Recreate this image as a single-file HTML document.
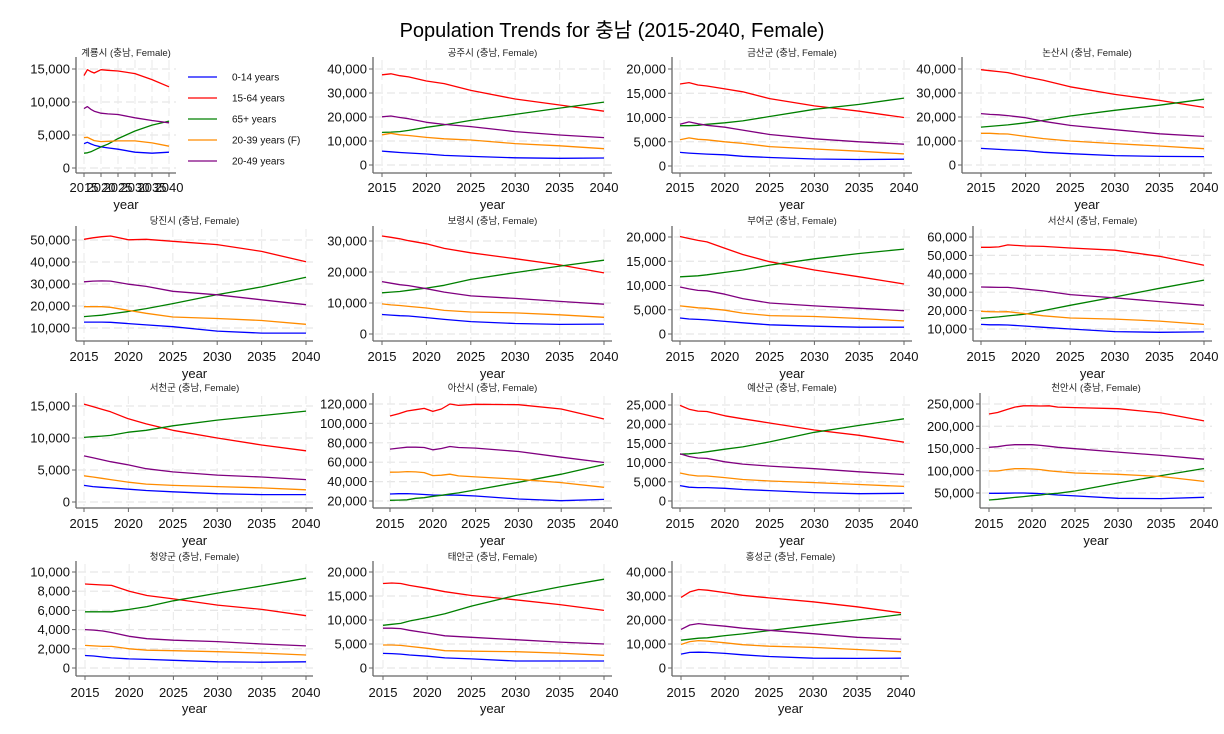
<!DOCTYPE html>
<html><head><meta charset="utf-8">
<style>
html,body{margin:0;padding:0;background:#fff;}
svg{display:block;font-family:"Liberation Sans","Noto Sans CJK KR",sans-serif;}
</style></head>
<body>
<svg id="chart" width="1224" height="734" viewBox="0 0 1224 734" xmlns="http://www.w3.org/2000/svg">
<rect x="0" y="0" width="1224" height="734" fill="#fff"/>
<text x="612" y="37" text-anchor="middle" font-size="20" fill="#000">Population Trends for 충남 (2015-2040, Female)</text>
<g id="legend"></g>
</svg>
<script>
const NS="http://www.w3.org/2000/svg";
const svg=document.getElementById('chart');
const YEARS_A=[2015,2016,2017,2018,2020,2022,2025,2030,2035,2040];
const YEARS_B=[2015,2016,2017,2018,2019,2020,2021,2022,2023,2025,2030,2035,2040];
const X_TICKS=[2015,2020,2025,2030,2035,2040];
const SERIES_NAMES=["0-14 years","15-64 years","65+ years","20-39 years (F)","20-49 years"];
const SERIES_KEYS=["age0_14","age15_64","age65","age20_39","age20_49"];
const COLORS=["#0000ff","#ff0000","#008000","#ff8c00","#800080"];
const REGIONS=["계룡시","공주시","금산군","논산시","당진시","보령시","부여군","서산시","서천군","아산시","예산군","천안시","청양군","태안군","홍성군"];

// values per region: [0-14, 15-64, 65+, 20-39, 20-49]
const gyeryong_age0_14=[3700,3900,3650,3450,3200,3050,2850,2400,2250,2400];
const gyeryong_age15_64=[14000,14900,14600,14400,14900,14800,14700,14300,13400,12300];
const gyeryong_age65=[2250,2300,2450,2700,3200,3600,4450,5600,6500,7100];
const gyeryong_age20_39=[4600,4650,4400,4150,4000,4050,4100,4100,3800,3300];
const gyeryong_age20_49=[9000,9300,8900,8600,8300,8200,8100,7600,7200,6850];

const gongju_age0_14=[5800,5500,5200,5000,4600,4000,3600,3000,2800,2900];
const gongju_age15_64=[37600,38000,37200,36700,35000,33900,31100,27500,25000,22400];
const gongju_age65=[13600,13700,13900,14400,15700,16700,18600,21100,23700,26200];
const gongju_age20_39=[12600,13200,12600,12300,11500,10900,10400,8900,8000,6800];
const gongju_age20_49=[20100,20400,19800,19300,17800,16900,16000,13900,12500,11400];

const geumsan_age0_14=[2800,2650,2550,2450,2300,2000,1750,1450,1350,1400];
const geumsan_age15_64=[16900,17200,16700,16500,15900,15300,13900,12400,11300,10000];
const geumsan_age65=[8300,8300,8400,8600,8900,9300,10200,11700,12700,14000];
const geumsan_age20_39=[5400,5800,5500,5400,5000,4650,4000,3500,3050,2500];
const geumsan_age20_49=[8600,9100,8700,8400,8000,7400,6500,5600,5000,4500];

const nonsan_age0_14=[6900,6700,6500,6300,6000,5300,4700,3900,3600,3500];
const nonsan_age15_64=[39700,39300,38900,38500,36800,35300,32600,29400,26900,24000];
const nonsan_age65=[15800,16100,16400,16700,17600,18600,20400,22800,24900,27400];
const nonsan_age20_39=[13200,13200,13000,12900,11900,11000,10000,8900,7900,6800];
const nonsan_age20_49=[21400,21100,20900,20600,19700,18200,16500,14700,13000,11900];

const dangjin_age0_14=[12700,12700,12700,12600,12000,11400,10600,8600,7700,7700];
const dangjin_age15_64=[50300,51000,51500,51800,50100,50300,49400,47900,44800,40100];
const dangjin_age65=[15200,15500,15800,16400,17500,18800,21100,25200,28700,33100];
const dangjin_age20_39=[19700,19700,19700,19400,18000,16700,15000,14300,13400,11700];
const dangjin_age20_49=[31000,31300,31400,31300,29900,28900,26700,25100,22800,20600];

const boryeong_age0_14=[6300,6100,5900,5800,5300,4700,4000,3400,3100,3200];
const boryeong_age15_64=[31600,31200,30700,30100,29100,27600,26200,24300,22300,19700];
const boryeong_age65=[13300,13500,13700,14100,14800,15700,17600,19800,21900,23800];
const boryeong_age20_39=[9700,9400,9200,8900,8400,7600,7100,6800,6200,5400];
const boryeong_age20_49=[16900,16400,15900,15600,14600,13500,12300,11500,10500,9600];

const buyeo_age0_14=[3300,3100,3000,2900,2600,2300,1900,1600,1400,1400];
const buyeo_age15_64=[20100,19700,19300,19000,17700,16400,14900,13200,11800,10300];
const buyeo_age65=[11800,11900,12000,12200,12700,13200,14200,15500,16600,17500];
const buyeo_age20_39=[5800,5600,5400,5300,4900,4300,3800,3600,3200,2700];
const buyeo_age20_49=[9700,9300,9000,8900,8200,7300,6400,5800,5300,4800];

const seosan_age0_14=[12500,12300,12300,12200,11600,10900,10000,8600,8200,8400];
const seosan_age15_64=[54400,54400,54600,55700,55100,54900,54000,52800,49500,44600];
const seosan_age65=[15800,16200,16600,17100,18100,20000,22900,27400,32100,36600];
const seosan_age20_39=[19600,19400,19300,19400,18300,17200,16000,15400,14300,12500];
const seosan_age20_49=[32800,32700,32600,32600,31700,30700,28700,26900,24900,22900];

const seocheon_age0_14=[2600,2400,2300,2200,2000,1800,1600,1300,1150,1150];
const seocheon_age15_64=[15300,14900,14500,14100,13000,12200,11200,10000,8900,8000];
const seocheon_age65=[10100,10200,10300,10400,10900,11200,11900,12800,13500,14200];
const seocheon_age20_39=[4100,3900,3700,3500,3100,2800,2600,2400,2200,1900];
const seocheon_age20_49=[7200,6900,6600,6300,5800,5200,4700,4200,3900,3500];

const asan_age0_14=[27200,27500,27600,27200,26700,26200,26000,26200,26000,25200,22100,20300,21700];
const asan_age15_64=[107600,110000,112800,114100,115500,112400,114800,120000,118600,119700,119300,114800,104500];
const asan_age65=[20700,20900,21200,22800,23400,24800,25900,27200,28300,31400,39300,47600,57600];
const asan_age20_39=[49700,49800,50300,50000,49300,46200,46600,47600,45900,44800,42400,39000,34100];
const asan_age20_49=[73500,74500,75500,75500,75200,72800,74100,76200,75200,74500,71000,65200,59700];

const yesan_age0_14=[4000,3600,3500,3500,3300,3000,2700,2200,1900,2000];
const yesan_age15_64=[24900,23900,23400,23300,22200,21400,20300,18500,17100,15300];
const yesan_age65=[12200,12300,12500,12800,13500,14100,15400,17900,19700,21400];
const yesan_age20_39=[7300,6800,6500,6500,6100,5600,5200,4800,4300,3800];
const yesan_age20_49=[12300,11600,11200,11100,10200,9600,9100,8400,7600,6900];

const cheonan_age0_14=[49300,49300,49500,50000,50000,49300,48600,47100,45600,43400,38200,37500,40400];
const cheonan_age15_64=[227500,231000,237000,243000,246000,246000,245500,246000,243000,242000,239500,230000,212000];
const cheonan_age65=[34300,35800,38000,40000,41800,44000,45500,48000,49300,54500,72500,89000,105000];
const cheonan_age20_39=[99500,99500,102500,104500,104500,104000,102500,100000,98000,95000,92000,87000,76000];
const cheonan_age20_49=[152600,154000,157000,158500,158500,158500,157000,155000,152600,149500,142000,134600,126000];

const cheongyang_age0_14=[1300,1250,1150,1050,950,900,800,650,600,650];
const cheongyang_age15_64=[8750,8700,8650,8600,8000,7550,7200,6550,6100,5450];
const cheongyang_age65=[5850,5850,5850,5850,6100,6400,7000,7800,8550,9350];
const cheongyang_age20_39=[2350,2300,2250,2250,2000,1850,1800,1700,1550,1350];
const cheongyang_age20_49=[4000,3950,3850,3700,3300,3050,2900,2750,2500,2300];

const taean_age0_14=[3050,3000,2900,2700,2450,2100,1900,1450,1450,1450];
const taean_age15_64=[17600,17700,17600,17200,16600,15900,15100,14200,13200,12000];
const taean_age65=[8900,9100,9300,9800,10500,11300,12900,15100,16900,18500];
const taean_age20_39=[4800,4800,4700,4500,4100,3600,3500,3400,3100,2650];
const taean_age20_49=[8300,8300,8200,7850,7300,6700,6400,5900,5400,5000];

const hongseong_age0_14=[5800,6500,6600,6500,6100,5500,4800,4100,4000,4100];
const hongseong_age15_64=[29400,31700,32700,32400,31400,30300,29200,27600,25500,23000];
const hongseong_age65=[11600,12000,12400,12600,13500,14200,15600,17800,20000,22300];
const hongseong_age20_39=[9800,11000,11400,11200,10500,9700,9100,8600,7700,6800];
const hongseong_age20_49=[16100,17900,18500,18100,17400,16600,15700,14300,12800,12000];

const Y_TICKS_15K=[0,5000,10000,15000];
const Y_TICKS_40K=[0,10000,20000,30000,40000];
const Y_TICKS_20K=[0,5000,10000,15000,20000];
const Y_TICKS_DANGJIN=[10000,20000,30000,40000,50000];
const Y_TICKS_30K=[0,10000,20000,30000];
const Y_TICKS_SEOSAN=[10000,20000,30000,40000,50000,60000];
const Y_TICKS_ASAN=[20000,40000,60000,80000,100000,120000];
const Y_TICKS_25K=[0,5000,10000,15000,20000,25000];
const Y_TICKS_CHEONAN=[50000,100000,150000,200000,250000];
const Y_TICKS_10K=[0,2000,4000,6000,8000,10000];

const DATA={
 gyeryong:[gyeryong_age0_14,gyeryong_age15_64,gyeryong_age65,gyeryong_age20_39,gyeryong_age20_49],
 gongju:[gongju_age0_14,gongju_age15_64,gongju_age65,gongju_age20_39,gongju_age20_49],
 geumsan:[geumsan_age0_14,geumsan_age15_64,geumsan_age65,geumsan_age20_39,geumsan_age20_49],
 nonsan:[nonsan_age0_14,nonsan_age15_64,nonsan_age65,nonsan_age20_39,nonsan_age20_49],
 dangjin:[dangjin_age0_14,dangjin_age15_64,dangjin_age65,dangjin_age20_39,dangjin_age20_49],
 boryeong:[boryeong_age0_14,boryeong_age15_64,boryeong_age65,boryeong_age20_39,boryeong_age20_49],
 buyeo:[buyeo_age0_14,buyeo_age15_64,buyeo_age65,buyeo_age20_39,buyeo_age20_49],
 seosan:[seosan_age0_14,seosan_age15_64,seosan_age65,seosan_age20_39,seosan_age20_49],
 seocheon:[seocheon_age0_14,seocheon_age15_64,seocheon_age65,seocheon_age20_39,seocheon_age20_49],
 asan:[asan_age0_14,asan_age15_64,asan_age65,asan_age20_39,asan_age20_49],
 yesan:[yesan_age0_14,yesan_age15_64,yesan_age65,yesan_age20_39,yesan_age20_49],
 cheonan:[cheonan_age0_14,cheonan_age15_64,cheonan_age65,cheonan_age20_39,cheonan_age20_49],
 cheongyang:[cheongyang_age0_14,cheongyang_age15_64,cheongyang_age65,cheongyang_age20_39,cheongyang_age20_49],
 taean:[taean_age0_14,taean_age15_64,taean_age65,taean_age20_39,taean_age20_49],
 hongseong:[hongseong_age0_14,hongseong_age15_64,hongseong_age65,hongseong_age20_39,hongseong_age20_49]
};

// layout (pixels)
const ROWS=[
 {top:60,axisY:173,title:56,xlab:192,xtitle:209},
 {top:229,axisY:341,title:224,xlab:361,xtitle:378},
 {top:396,axisY:508,title:391,xlab:528,xtitle:545},
 {top:564,axisY:676,title:560,xlab:697,xtitle:713}
];
const PANELS=[
 {key:'gyeryong',row:0,axisX:76,x0:84,x1:169,right:176,yt:Y_TICKS_15K,pTop:69,pBot:168,years:YEARS_A},
 {key:'gongju',row:0,axisX:373,x0:382,x1:604,right:612,yt:Y_TICKS_40K,pTop:69,pBot:165,years:YEARS_A},
 {key:'geumsan',row:0,axisX:672,x0:680,x1:904,right:912,yt:Y_TICKS_20K,pTop:69,pBot:166,years:YEARS_A},
 {key:'nonsan',row:0,axisX:962,x0:981,x1:1204,right:1212,yt:Y_TICKS_40K,pTop:69,pBot:165,years:YEARS_A},
 {key:'dangjin',row:1,axisX:76,x0:84,x1:306,right:313,yt:Y_TICKS_DANGJIN,pTop:240,pBot:328,years:YEARS_A},
 {key:'boryeong',row:1,axisX:373,x0:382,x1:604,right:612,yt:Y_TICKS_30K,pTop:241,pBot:334,years:YEARS_A},
 {key:'buyeo',row:1,axisX:672,x0:680,x1:904,right:912,yt:Y_TICKS_20K,pTop:237,pBot:334,years:YEARS_A},
 {key:'seosan',row:1,axisX:973,x0:981,x1:1204,right:1212,yt:Y_TICKS_SEOSAN,pTop:237,pBot:329,years:YEARS_A},
 {key:'seocheon',row:2,axisX:76,x0:84,x1:306,right:313,yt:Y_TICKS_15K,pTop:406,pBot:502,years:YEARS_A},
 {key:'asan',row:2,axisX:373,x0:390,x1:604,right:612,yt:Y_TICKS_ASAN,pTop:404,pBot:501,years:YEARS_B},
 {key:'yesan',row:2,axisX:672,x0:680,x1:904,right:912,yt:Y_TICKS_25K,pTop:405,pBot:501,years:YEARS_A},
 {key:'cheonan',row:2,axisX:980,x0:989,x1:1204,right:1212,yt:Y_TICKS_CHEONAN,pTop:404,pBot:493,years:YEARS_B},
 {key:'cheongyang',row:3,axisX:76,x0:85,x1:306,right:313,yt:Y_TICKS_10K,pTop:572,pBot:668,years:YEARS_A},
 {key:'taean',row:3,axisX:373,x0:383,x1:604,right:612,yt:Y_TICKS_20K,pTop:572,pBot:668,years:YEARS_A},
 {key:'hongseong',row:3,axisX:672,x0:681,x1:901,right:909,yt:Y_TICKS_40K,pTop:572,pBot:668,years:YEARS_A}
];

function mk(tag,attrs,parent){const e=document.createElementNS(NS,tag);for(const k in attrs)e.setAttribute(k,attrs[k]);(parent||svg).appendChild(e);return e;}
function fmt(v){return v.toLocaleString('en-US');}

PANELS.forEach((p,i)=>{
  const R=ROWS[p.row];
  const g=mk('g',{});
  
  
  const yMinT=p.yt[0], yMaxT=p.yt[p.yt.length-1];
  const xs=v=>p.x0+(v-2015)/(2040-2015)*(p.x1-p.x0);
  const ys=v=>p.pBot-(v-yMinT)/(yMaxT-yMinT)*(p.pBot-p.pTop);
  // grid
  p.yt.forEach(t=>{const l=mk('line',{x1:p.axisX+2,x2:p.right,y1:ys(t),y2:ys(t),stroke:'#e6e6e6','stroke-width':1.2,'stroke-dasharray':'8,4'},g);
    });
  X_TICKS.forEach(t=>{const l=mk('line',{x1:xs(t),x2:xs(t),y1:R.top,y2:R.axisY-2,stroke:'#ececec','stroke-width':1.2,'stroke-dasharray':'8,4'},g);
    });
  // axes
  const ya=mk('line',{x1:p.axisX,x2:p.axisX,y1:R.top-3,y2:R.axisY,stroke:'#666','stroke-width':1.3},g);
  
  const xa=mk('line',{x1:p.axisX,x2:p.right,y1:R.axisY,y2:R.axisY,stroke:'#666','stroke-width':1.3},g);
  
  p.yt.forEach(t=>{
    mk('line',{x1:p.axisX-4,x2:p.axisX,y1:ys(t),y2:ys(t),stroke:'#666','stroke-width':1},g);
    const tx=mk('text',{x:p.axisX-6,y:ys(t)+4.5,'text-anchor':'end','font-size':13,fill:'#111'},g);
    tx.textContent=fmt(t);
    
  });
  X_TICKS.forEach(t=>{
    mk('line',{x1:xs(t),x2:xs(t),y1:R.axisY,y2:R.axisY+4,stroke:'#666','stroke-width':1},g);
    const tx=mk('text',{x:xs(t),y:R.xlab,'text-anchor':'middle','font-size':13,fill:'#111'},g);
    tx.textContent=t;
    
  });
  const xt=mk('text',{x:(p.axisX+p.right)/2,y:R.xtitle,'text-anchor':'middle','font-size':13,fill:'#111'},g);
  xt.textContent='year';
  
  const tt=mk('text',{x:(p.axisX+p.right)/2,y:R.title,'text-anchor':'middle','font-size':9.5,fill:'#222'},g);
  tt.textContent=REGIONS[i]+' (충남, Female)';
  
  // series
  DATA[p.key].forEach((vals,si)=>{
    const d=vals.map((v,k)=>(k?'L':'M')+xs(p.years[k]).toFixed(1)+','+ys(v).toFixed(1)).join(' ');
    const path=mk('path',{d:d,fill:'none',stroke:COLORS[si],'stroke-width':1.3,'stroke-linejoin':'round'},g);
    
    
  });
});

// legend
const lg=document.getElementById('legend');
SERIES_NAMES.forEach((n,i)=>{
  const y=77+i*21;
  const l=mk('line',{x1:188,x2:217,y1:y,y2:y,stroke:COLORS[i],'stroke-width':1.3},lg);
  
  const t=mk('text',{x:232,y:y+3.5,'font-size':10,fill:'#111'},lg);
  t.textContent=n;
  
});
</script>
</body></html>
